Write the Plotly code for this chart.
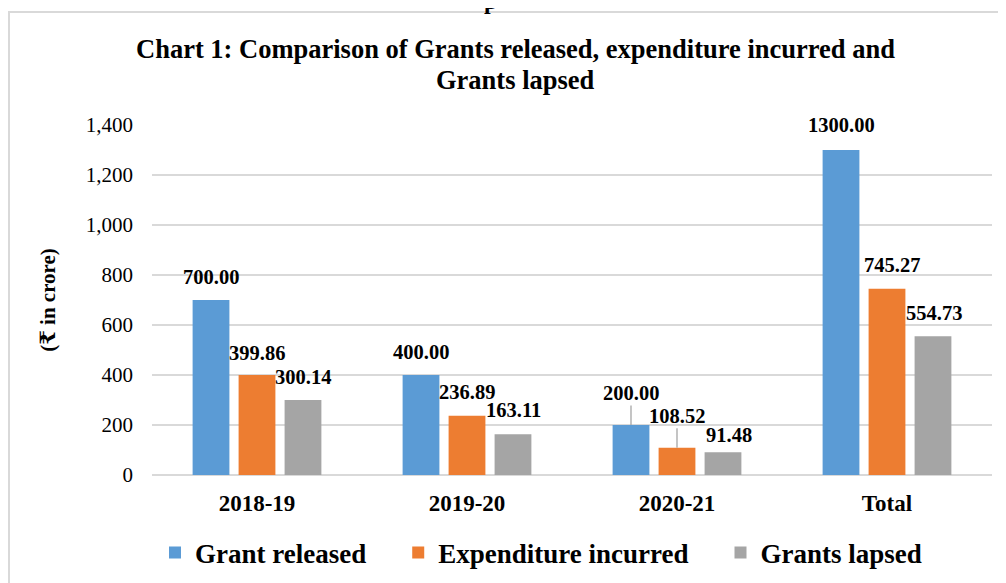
import plotly.graph_objects as go

categories = ["2018-19", "2019-20", "2020-21", "Total"]
grant_released = [700.00, 400.00, 200.00, 1300.00]
expenditure = [399.86, 236.89, 108.52, 745.27]
lapsed = [300.14, 163.11, 91.48, 554.73]
series_names = ["Grant released", "Expenditure incurred", "Grants lapsed"]
colors = ["#5B9BD5", "#ED7D31", "#A5A5A5"]
y_ticks = [0, 200, 400, 600, 800, 1000, 1200, 1400]

W, H = 1006, 583
OFF = 8  # page body margin of the html page
ML, MT = 152 - OFF, 125 - OFF
PW, PH = 840, 350
MR, MB = W - ML - PW, H - MT - PH


def px_x(px):  # page pixel -> paper x
    return (px - OFF - ML) / PW


def px_y(py):  # page pixel -> paper y
    return (H - MB - (py - OFF)) / PH


fig = go.Figure()
pad = "\u00a0" * 4
for i, (name, vals, col) in enumerate(zip(series_names, [grant_released, expenditure, lapsed], colors)):
    fig.add_trace(go.Bar(x=categories, y=vals, name="<b>" + name + "</b>" + (pad if i < 2 else ""),
                         marker=dict(color=col, line=dict(width=0))))

# label offsets (pixel) for Excel-like label placement: (xshift, yshift, leader)
offsets = {
    0: [(0, 23, False), (0, 22, False), (0, 23, False)],
    1: [(0, 23, False), (0, 24, False), (0, 24, False)],
    2: [(0, 32, True), (0, 32, True), (6, 17, False)],
    3: [(0, 25, False), (5, 24, False), (1, 23, False)],
}
bar_dx = [-46, 0, 46]
lab_font = dict(family="Liberation Serif, DejaVu Serif, serif", size=20.5, color="#000")
for si, vals in enumerate([grant_released, expenditure, lapsed]):
    for ci, v in enumerate(vals):
        dx, dy, leader = offsets[ci][si]
        if leader:
            fig.add_annotation(x=categories[ci], y=v, text="<b>%.2f</b>" % v, xref="x", yref="y",
                               showarrow=True, arrowhead=0, arrowwidth=1.3, arrowcolor="#a6a6a6",
                               ax=0, ay=-dy, xshift=bar_dx[si], standoff=0, font=lab_font)
        else:
            fig.add_annotation(x=categories[ci], y=v, text="<b>%.2f</b>" % v, xref="x", yref="y",
                               showarrow=False, xshift=bar_dx[si] + dx, yshift=dy, font=lab_font)

# outer border like the source chart frame
fig.add_shape(type="rect", xref="paper", yref="paper",
              x0=px_x(9), x1=1.3, y0=-1.0, y1=px_y(12),
              line=dict(color="#d9d9d9", width=2), fillcolor="rgba(0,0,0,0)", layer="below")

# clipped heading above the frame
fig.add_annotation(text="<b>p</b>", xref="paper", yref="paper", x=px_x(490), y=px_y(16),
                   xanchor="center", yanchor="bottom", showarrow=False,
                   font=dict(family="Liberation Serif, serif", size=24, color="#000"))

# chart title (two lines, Excel spacing)
title_font = dict(family="Liberation Serif, serif", size=26.5, color="#000")
fig.add_annotation(text="<b>Chart 1: Comparison of Grants released, expenditure incurred and</b>",
                   xref="paper", yref="paper", x=px_x(515), y=px_y(49), xanchor="center",
                   yanchor="middle", showarrow=False, font=title_font)
fig.add_annotation(text="<b>Grants lapsed</b>",
                   xref="paper", yref="paper", x=px_x(515), y=px_y(80), xanchor="center",
                   yanchor="middle", showarrow=False, font=title_font)

fig.update_layout(
    width=W, height=H,
    margin=dict(l=ML, r=MR, t=MT, b=MB, autoexpand=False),
    paper_bgcolor="white", plot_bgcolor="white",
    barmode="group", bargap=0.343, bargroupgap=0.2,
    font=dict(family="Liberation Serif, serif", color="#000"),
    xaxis=dict(showline=False, ticks="", tickfont=dict(size=23, family="Liberation Serif, serif", color="#000"),
               tickprefix="<b>", ticksuffix="</b>", showgrid=False, ticklabelstandoff=12),
    yaxis=dict(range=[0, 1400], tickvals=y_ticks, ticktext=[f"{t:,}" for t in y_ticks],
               showgrid=True, gridcolor="#d9d9d9", gridwidth=1.5, zeroline=True, zerolinecolor="#d9d9d9",
               zerolinewidth=1.5, ticks="", ticklabelstandoff=18,
               tickfont=dict(size=21, family="Liberation Serif, serif", color="#000"),
               title=dict(text="<b>(₹ in crore)</b>", standoff=24,
                          font=dict(size=21, family="Liberation Serif, DejaVu Serif, serif", color="#000"))),
    legend=dict(orientation="h", x=px_x(541), xanchor="center", y=px_y(553), yanchor="middle",
                font=dict(size=27, family="Liberation Serif, serif", color="#000"),
                itemwidth=30, traceorder="normal"),
    showlegend=True,
)

fig.write_html("out.html")
